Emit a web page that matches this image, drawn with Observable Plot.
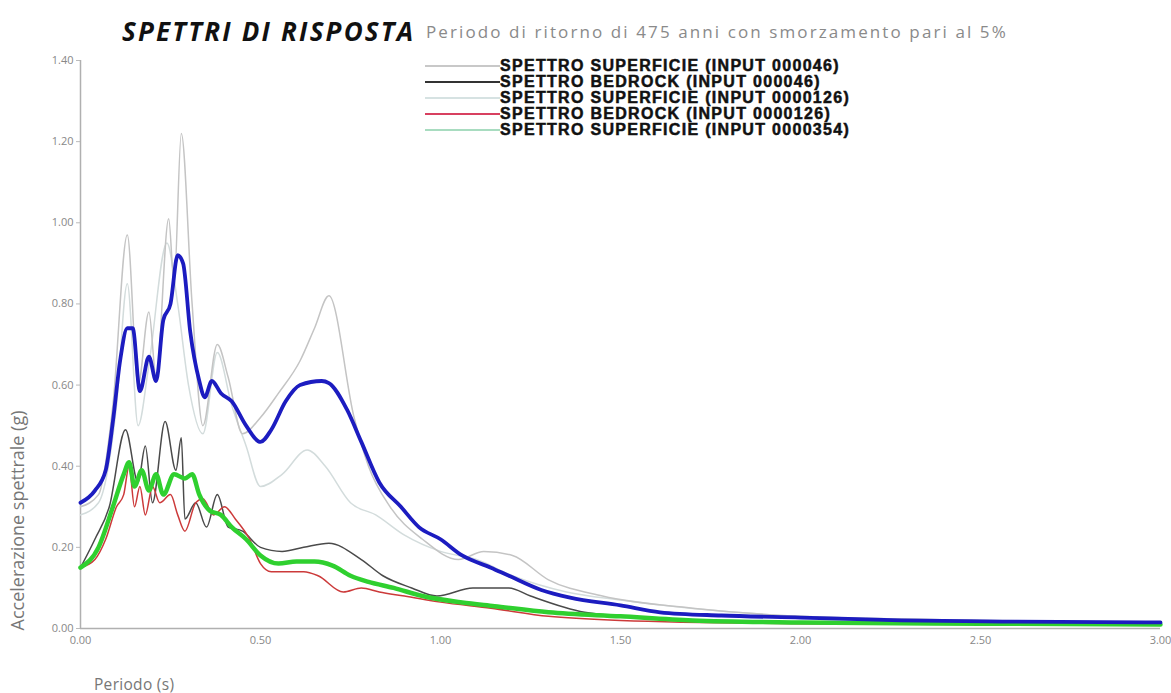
<!DOCTYPE html>
<html>
<head>
<meta charset="utf-8">
<script src="https://cdn.jsdelivr.net/npm/d3@7"></script>
<script src="https://cdn.jsdelivr.net/npm/@observablehq/plot@0.6"></script>
<style>
  body { margin: 0; background: #fff; width: 1171px; height: 693px; overflow: hidden; font-family: "Open Sans", sans-serif; position: relative; }
  #title { height: 48px; position: relative; }
  #title .t1 { position: absolute; left: 122px; top: 15px; font-size: 26px; line-height: 32px; font-weight: 700; font-style: italic; color: #111; letter-spacing: 2.2px; }
  #title .t2 { position: absolute; left: 426px; top: 19px; font-size: 17px; line-height: 26px; color: #8a8a8a; letter-spacing: 2.1px; }
  #xlabel { position: absolute; left: 94px; top: 677px; font-size: 15.5px; line-height: 15px; color: #777; letter-spacing: 0.3px; }
  #legend { position: absolute; left: 425px; top: 58px; }
  .row { display: flex; align-items: center; height: 16px; }
  .sw { width: 75px; height: 2px; }
  .lt { font-family: "Liberation Sans", Arial, sans-serif; font-weight: 700; font-size: 16px; line-height: 16px; color: #111; -webkit-text-stroke: 0.5px #111; letter-spacing: 1.3px; white-space: nowrap; }
</style>
</head>
<body>
<div id="title"><span class="t1">SPETTRI DI RISPOSTA</span><span class="t2">Periodo di ritorno di 475 anni con smorzamento pari al 5%</span></div>
<div id="chart"></div>
<div id="xlabel">Periodo (s)</div>
<div id="legend"></div>
<script>
// ---- Data (period T in s, spectral acceleration in g) ----
const seriesNames = [
  "SPETTRO SUPERFICIE (INPUT 000046)",
  "SPETTRO BEDROCK (INPUT 000046)",
  "SPETTRO SUPERFICIE (INPUT 0000126)",
  "SPETTRO BEDROCK (INPUT 0000126)",
  "SPETTRO SUPERFICIE (INPUT 0000354)"
];
const meanName = "SPETTRO MEDIO";

const tSup046 = [0, 0.05, 0.09, 0.13, 0.16, 0.19, 0.21, 0.245, 0.26, 0.28, 0.31, 0.34, 0.38, 0.41, 0.45, 0.50, 0.55, 0.61, 0.65, 0.69, 0.76, 0.80, 0.86, 0.95, 1.05, 1.12, 1.20, 1.30, 1.45, 1.70, 2.00, 2.50, 3.00];
const vSup046 = [0.30, 0.33, 0.55, 0.97, 0.60, 0.78, 0.62, 1.01, 0.85, 1.22, 0.80, 0.50, 0.70, 0.62, 0.48, 0.52, 0.58, 0.66, 0.74, 0.82, 0.52, 0.40, 0.30, 0.22, 0.17, 0.19, 0.18, 0.12, 0.08, 0.05, 0.03, 0.02, 0.015];

const tBed046 = [0, 0.04, 0.08, 0.125, 0.16, 0.18, 0.20, 0.235, 0.265, 0.28, 0.29, 0.32, 0.35, 0.38, 0.41, 0.45, 0.50, 0.56, 0.62, 0.69, 0.78, 0.84, 0.92, 0.99, 1.09, 1.19, 1.25, 1.40, 1.60, 2.00, 2.50, 3.00];
const vBed046 = [0.15, 0.22, 0.30, 0.49, 0.36, 0.45, 0.31, 0.51, 0.39, 0.47, 0.27, 0.31, 0.25, 0.33, 0.25, 0.24, 0.20, 0.19, 0.20, 0.21, 0.17, 0.13, 0.10, 0.08, 0.10, 0.10, 0.08, 0.04, 0.025, 0.015, 0.012, 0.01];

const tSup0126 = [0, 0.05, 0.10, 0.13, 0.16, 0.19, 0.24, 0.27, 0.30, 0.34, 0.38, 0.42, 0.46, 0.50, 0.56, 0.63, 0.68, 0.75, 0.82, 0.90, 1.00, 1.10, 1.20, 1.35, 1.50, 2.00, 2.50, 3.00];
const vSup0126 = [0.28, 0.31, 0.55, 0.85, 0.50, 0.65, 0.95, 0.80, 0.60, 0.48, 0.68, 0.55, 0.45, 0.35, 0.38, 0.44, 0.40, 0.31, 0.28, 0.23, 0.19, 0.17, 0.13, 0.09, 0.07, 0.03, 0.02, 0.015];

const tBed0126 = [0, 0.04, 0.07, 0.10, 0.12, 0.135, 0.15, 0.165, 0.18, 0.20, 0.22, 0.25, 0.27, 0.29, 0.32, 0.34, 0.37, 0.40, 0.43, 0.47, 0.50, 0.53, 0.58, 0.62, 0.66, 0.73, 0.78, 0.83, 0.90, 1.00, 1.14, 1.30, 1.50, 2.00, 3.00];
const vBed0126 = [0.15, 0.17, 0.22, 0.30, 0.33, 0.40, 0.30, 0.35, 0.28, 0.35, 0.31, 0.33, 0.28, 0.24, 0.31, 0.32, 0.28, 0.30, 0.27, 0.22, 0.16, 0.14, 0.14, 0.14, 0.13, 0.09, 0.10, 0.09, 0.08, 0.065, 0.05, 0.03, 0.02, 0.012, 0.008];

const tSup0354 = [0, 0.05, 0.09, 0.12, 0.135, 0.15, 0.17, 0.19, 0.21, 0.23, 0.26, 0.29, 0.31, 0.33, 0.36, 0.39, 0.42, 0.46, 0.50, 0.55, 0.60, 0.65, 0.70, 0.75, 0.80, 0.87, 0.95, 1.06, 1.15, 1.30, 1.50, 1.70, 2.00, 2.50, 3.00];
const vSup0354 = [0.15, 0.20, 0.30, 0.38, 0.41, 0.35, 0.39, 0.34, 0.38, 0.33, 0.38, 0.37, 0.38, 0.33, 0.29, 0.28, 0.25, 0.22, 0.18, 0.16, 0.165, 0.165, 0.155, 0.13, 0.115, 0.10, 0.08, 0.064, 0.055, 0.04, 0.03, 0.02, 0.015, 0.012, 0.01];

const tMean = [0, 0.04, 0.07, 0.09, 0.11, 0.13, 0.145, 0.165, 0.19, 0.21, 0.23, 0.25, 0.27, 0.285, 0.305, 0.33, 0.345, 0.365, 0.39, 0.42, 0.46, 0.50, 0.53, 0.57, 0.61, 0.67, 0.69, 0.74, 0.78, 0.83, 0.89, 0.94, 1.00, 1.06, 1.14, 1.19, 1.28, 1.36, 1.50, 1.61, 1.78, 2.00, 2.28, 2.56, 3.00];
const vMean = [0.31, 0.34, 0.39, 0.51, 0.66, 0.74, 0.74, 0.585, 0.67, 0.61, 0.76, 0.80, 0.92, 0.90, 0.73, 0.61, 0.57, 0.61, 0.58, 0.56, 0.50, 0.46, 0.49, 0.56, 0.60, 0.61, 0.605, 0.54, 0.46, 0.36, 0.30, 0.25, 0.22, 0.18, 0.15, 0.13, 0.095, 0.076, 0.057, 0.04, 0.032, 0.027, 0.02, 0.017, 0.015];

const xTicks = [0, 0.5, 1, 1.5, 2, 2.5, 3];
const yTicks = [0, 0.2, 0.4, 0.6, 0.8, 1.0, 1.2, 1.4];

const lineColors = ["#c4c4c4", "#4a4a4a", "#d3dcdc", "#cc3a3a", "#2fd02f"];
const legendColors = ["#c8c8c8", "#333333", "#d6e2e2", "#d84060", "#a8dcc0"];
const lineWidths = [1.5, 1.5, 1.5, 1.5, 4.5];
const meanColor = "#1c1cc0";

// ---- Build table ----
const pairs = [[tSup046, vSup046], [tBed046, vBed046], [tSup0126, vSup0126], [tBed0126, vBed0126], [tSup0354, vSup0354]];
const order = [2, 0, 1, 3, 4];
const marks = [];
for (const i of order) {
  const [ts, vs] = pairs[i];
  const rows = ts.map((t, k) => ({T: t, A: vs[k], s: seriesNames[i]}));
  marks.push(Plot.line(rows, {x: "T", y: "A", stroke: lineColors[i], strokeWidth: lineWidths[i], curve: "monotone-x"}));
}
const meanRows = tMean.map((t, k) => ({T: t, A: vMean[k], s: meanName}));
marks.push(Plot.line(meanRows, {x: "T", y: "A", stroke: meanColor, strokeWidth: 3.8, curve: "monotone-x"}));

const chart = Plot.plot({
  width: 1171,
  height: 615,
  marginLeft: 80,
  marginRight: 11,
  marginTop: 12,
  marginBottom: 35,
  style: {fontFamily: "Open Sans, sans-serif", fontSize: "11px", color: "#888", background: "#fff", overflow: "visible"},
  x: {domain: [0, 3]},
  y: {domain: [0, 1.4]},
  marks: [
    Plot.axisY({ticks: yTicks, tickFormat: d => d.toFixed(2), tickSize: 4, tickPadding: 3, label: null, stroke: "#bbb"}),
    Plot.axisX({ticks: xTicks, tickFormat: d => d.toFixed(2), tickSize: 0, tickPadding: 8, label: null}),
    Plot.ruleX([0], {stroke: "#b0b0b0", strokeWidth: 1.5}),
    Plot.ruleY([0], {stroke: "#b0b0b0", strokeWidth: 1.5}),
    ...marks,
    Plot.text(["Accelerazione spettrale (g)"], {frameAnchor: "bottom-left", dx: -62, dy: 2, rotate: -90, textAnchor: "start", lineAnchor: "middle", fontSize: 18, fill: "#777", style: "letter-spacing: 1px"})
  ]
});
document.getElementById("chart").appendChild(chart);

// ---- Legend ----
const leg = document.getElementById("legend");
seriesNames.forEach((n, i) => {
  const r = document.createElement("div");
  r.className = "row";
  r.innerHTML = `<div class="sw" style="background:${legendColors[i]}"></div><span class="lt">${n}</span>`;
  leg.appendChild(r);
});
</script>
</body>
</html>
